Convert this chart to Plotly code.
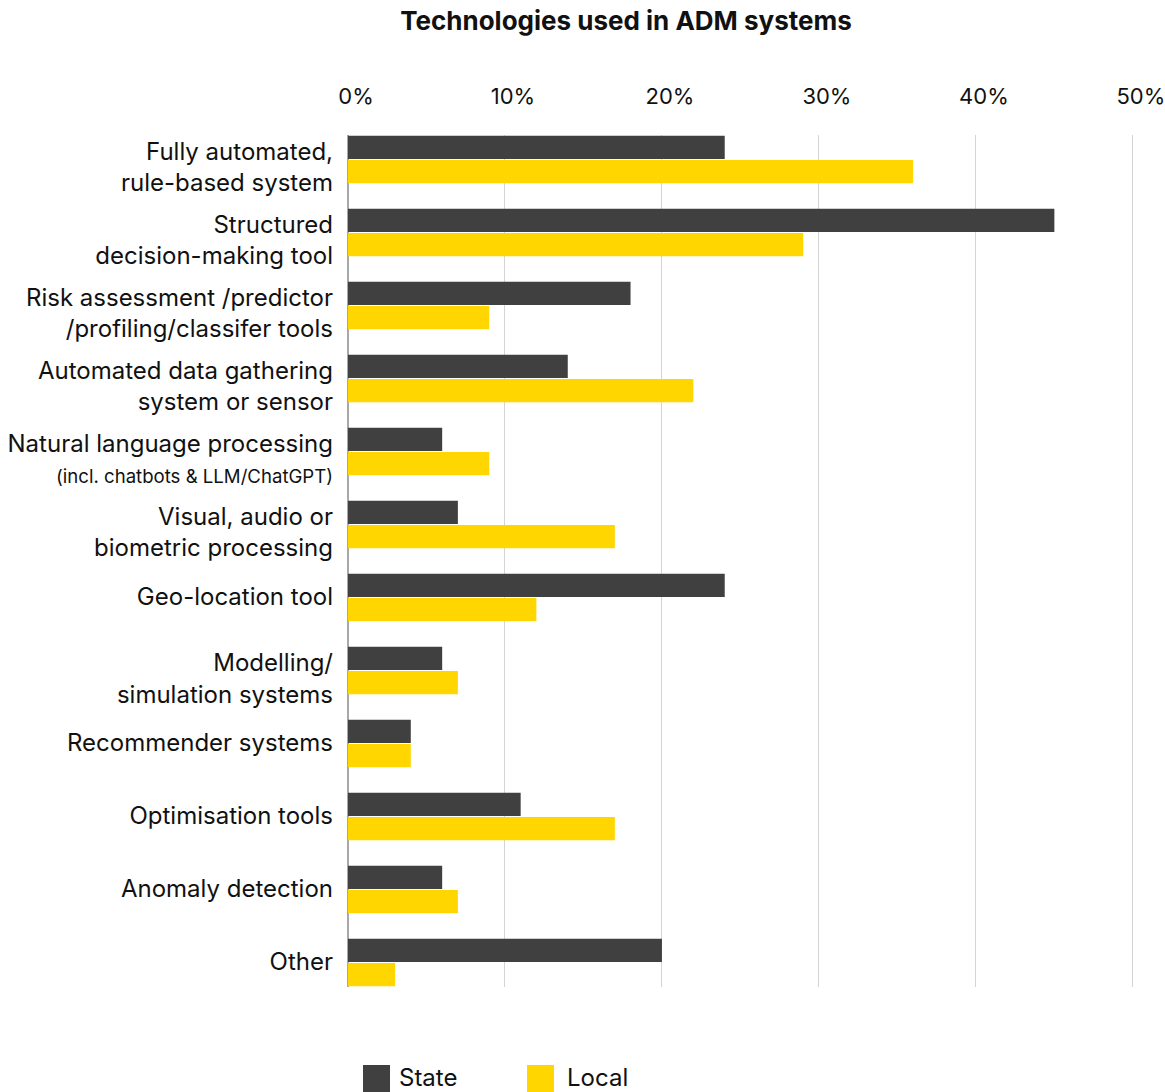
import plotly.graph_objects as go

categories = [
    "Fully automated,<br>rule-based system",
    "Structured<br>decision-making tool",
    "Risk assessment /predictor<br>/profiling/classifer tools",
    "Automated data gathering<br>system or sensor",
    "Natural language processing<br><span style='font-size:18.6px'>(incl. chatbots &amp; LLM/ChatGPT)</span>",
    "Visual, audio or<br>biometric processing",
    "Geo-location tool",
    "Modelling/<br>simulation systems",
    "Recommender systems",
    "Optimisation tools",
    "Anomaly detection",
    "Other",
]
state = [24, 45, 18, 14, 6, 7, 24, 6, 4, 11, 6, 20]
local = [36, 29, 9, 22, 9, 17, 12, 7, 4, 17, 7, 3]
x_ticks = [0, 10, 20, 30, 40, 50]
x_tick_labels = ["0%", "10%", "20%", "30%", "40%", "50%"]

STATE_COLOR = "#404040"
LOCAL_COLOR = "#FFD600"
FONT = "Inter, Roboto, 'Noto Sans', sans-serif"

W, H = 1165, 1092
X_MAX = 50.2
L, T, B = 348, 135, 105
pw = round(785 / 50 * X_MAX)
R = W - L - pw
ph = H - T - B

single_line = [c for c in categories if "<br>" not in c]
multi_line = [c for c in categories if "<br>" in c]

fig = go.Figure()
fig.add_trace(go.Bar(y=categories, x=state, name="State", orientation="h",
                     marker=dict(color=STATE_COLOR, line=dict(width=0)), showlegend=False))
fig.add_trace(go.Bar(y=categories, x=local, name="Local", orientation="h",
                     marker=dict(color=LOCAL_COLOR, line=dict(width=0)), showlegend=False))
# invisible helper so the overlaid label axis knows the same categories
fig.add_trace(go.Scatter(y=categories, x=[0] * len(categories), yaxis="y2", mode="markers",
                         marker=dict(opacity=0), hoverinfo="skip", showlegend=False))


def px_x(px):
    return (px - L) / pw


def px_y(py):
    return (H - B - py) / ph


# custom legend
legend_items = [("State", STATE_COLOR, 363, 397), ("Local", LOCAL_COLOR, 527, 565)]
shapes = []
annotations = []
for name, color, sx, tx in legend_items:
    shapes.append(dict(type="rect", xref="paper", yref="paper",
                       x0=px_x(sx), x1=px_x(sx + 27), y0=px_y(1092), y1=px_y(1065),
                       fillcolor=color, line=dict(width=0)))
    annotations.append(dict(text=name, xref="paper", yref="paper", x=px_x(tx), y=px_y(1077),
                            xanchor="left", yanchor="middle", showarrow=False,
                            font=dict(size=24, color="#111111", family=FONT)))

yrange = [11.335, -0.335]
common_y = dict(type="category", range=yrange, showgrid=False, showline=False,
                zeroline=False, ticks="", ticklabelstandoff=14, automargin=False,
                categoryorder="array", categoryarray=categories,
                tickfont=dict(size=24, color="#111111"))

fig.update_layout(
    width=W, height=H,
    margin=dict(l=L, r=R, t=T, b=B, pad=0, autoexpand=False),
    paper_bgcolor="white", plot_bgcolor="white",
    barmode="group", bargap=0.335, bargroupgap=0.04,
    font=dict(family=FONT, size=24, color="#111111"),
    title=dict(text="<b>Technologies used in ADM systems</b>",
               x=px_x(626), xref="paper", xanchor="center",
               y=1 - 21 / H, yref="container", yanchor="middle",
               font=dict(size=26, color="#111111", family=FONT)),
    xaxis=dict(side="top", range=[0, X_MAX], tickvals=x_ticks, ticktext=x_tick_labels,
               showgrid=True, gridcolor="#d4d4d4", gridwidth=1,
               zeroline=True, zerolinecolor="#a8a8a8", zerolinewidth=1.5,
               showline=False, ticks="", ticklabelstandoff=26, ticklabelshift=8,
               ticklabeloverflow="allow", automargin=False,
               tickfont=dict(size=22, color="#111111")),
    yaxis=dict(**common_y, tickmode="array", tickvals=single_line, ticktext=single_line,
               ticklabelshift=1),
    yaxis2=dict(**common_y, overlaying="y", side="left", tickmode="array",
                tickvals=multi_line, ticktext=multi_line, ticklabelshift=-8),
    shapes=shapes, annotations=annotations,
)

fig.write_html("out.html")
